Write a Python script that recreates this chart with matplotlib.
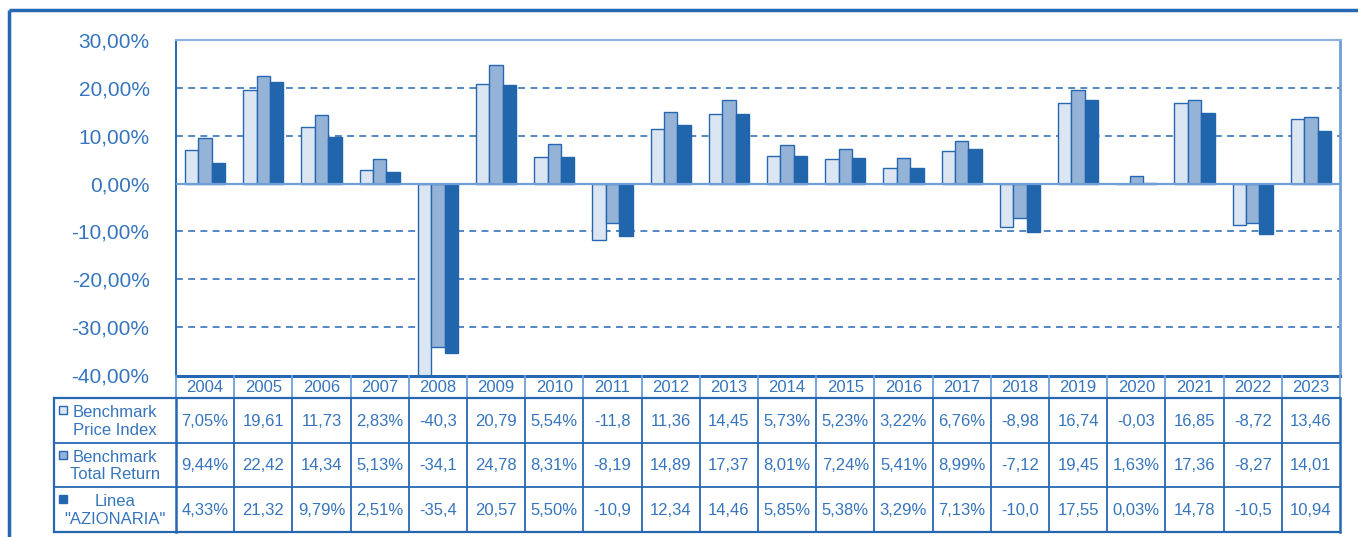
import matplotlib
matplotlib.use('Agg')
import matplotlib.pyplot as plt
from matplotlib.patches import Rectangle

plt.rcParams['font.family'] = ['Liberation Sans', 'DejaVu Sans']

# Data
years = [str(y) for y in range(2004, 2024)]
price_index = [7.05, 19.61, 11.73, 2.83, -40.30, 20.79, 5.54, -11.85, 11.36, 14.45,
               5.73, 5.23, 3.22, 6.76, -8.98, 16.74, -0.03, 16.85, -8.72, 13.46]
total_return = [9.44, 22.42, 14.34, 5.13, -34.10, 24.78, 8.31, -8.19, 14.89, 17.37,
                8.01, 7.24, 5.41, 8.99, -7.12, 19.45, 1.63, 17.36, -8.27, 14.01]
azionaria = [4.33, 21.32, 9.79, 2.51, -35.45, 20.57, 5.50, -10.95, 12.34, 14.46,
             5.85, 5.38, 3.29, 7.13, -10.05, 17.55, 0.03, 14.78, -10.55, 10.94]
series_names = ["Benchmark\nPrice Index", "Benchmark\nTotal Return", "Linea\n\"AZIONARIA\""]
y_ticks = [-40, -30, -20, -10, 0, 10, 20, 30]

# Styles
dark = '#2667b3'
mid = '#6f9fd6'
fills = ['#dce6f2', '#95b3d7', '#2166ad']
edges = [dark, dark, '#2166ad']
text_c = '#3675be'

W, H = 1358, 537
fig = plt.figure(figsize=(W / 100, H / 100), dpi=100)

# plot area in pixels
L, R, T, B = 176, 1340, 40, 375
ax = fig.add_axes([L / W, 1 - B / H, (R - L) / W, (B - T) / H])

x = list(range(len(years)))
bw = 0.23
for k, vals in enumerate([price_index, total_return, azionaria]):
    ax.bar([i + (k - 1) * bw for i in x], vals, width=bw, color=fills[k],
           edgecolor=edges[k], linewidth=1.0, zorder=3)

ax.set_xlim(-0.5, len(years) - 0.5)
ax.set_ylim(-40, 30)
ax.set_xticks([])
ax.set_yticks(y_ticks)
ax.set_yticklabels([f"{t:.2f}".replace('.', ',') + '%' for t in y_ticks],
                   fontsize=15, color=text_c)
ax.tick_params(axis='y', length=0, pad=19)

for t in y_ticks[1:-1]:
    if t == 0:
        ax.axhline(0, color=mid, lw=1.6, zorder=4)
    else:
        ax.axhline(t, color=dark, lw=1.1, linestyle=(0, (4.5, 3.5)), zorder=1)

ax.spines['left'].set_color(dark)
ax.spines['left'].set_linewidth(1.4)
ax.spines['right'].set_color(mid)
ax.spines['right'].set_linewidth(2.0)
ax.spines['top'].set_color('#8db2df')
ax.spines['top'].set_linewidth(1.6)
ax.spines['bottom'].set_visible(False)

# overlay for frame and table, pixel coordinates
ov = fig.add_axes([0, 0, 1, 1])
ov.set_xlim(0, W)
ov.set_ylim(H, 0)
ov.axis('off')

# outer frame
ov.plot([9, 9], [10, H], color=dark, lw=2.5, solid_capstyle='butt')
ov.plot([9, W], [10, 10], color=dark, lw=2.5, solid_capstyle='butt')

cw = (R - L) / len(years)
y_head_top, y_head_bot = 376, 398
row_edges = [398, 443, 487, 532]
lab_left = 54

# header row (years)
ov.plot([L, R], [y_head_top, y_head_top], color=dark, lw=2.2)
for i in range(len(years) + 1):
    xx = L + i * cw
    ov.plot([xx, xx], [y_head_top, y_head_bot], color=mid, lw=1.3)
for i, yr in enumerate(years):
    ov.text(L + (i + 0.5) * cw, (y_head_top + y_head_bot) / 2 + 1, yr,
            ha='center', va='center', fontsize=12, color=text_c)

# body grid
for j, yy in enumerate(row_edges):
    ov.plot([lab_left, R], [yy, yy], color=dark, lw=1.6 if j in (0, 3) else 1.3)
ov.plot([lab_left, lab_left], [row_edges[0], row_edges[-1]], color=dark, lw=1.6)
for i in range(len(years) + 1):
    xx = L + i * cw
    ov.plot([xx, xx], [row_edges[0], row_edges[-1]], color=dark,
            lw=1.8 if i in (0, len(years)) else 1.3)

# body text
for r, vals in enumerate([price_index, total_return, azionaria]):
    yc = (row_edges[r] + row_edges[r + 1]) / 2 + 1
    for i, v in enumerate(vals):
        lab = (f"{v:.2f}".replace('.', ',') + '%')[:5]
        ov.text(L + (i + 0.5) * cw, yc, lab, ha='center', va='center',
                fontsize=12, color=text_c)
    ov.text(115, yc, series_names[r], ha='center', va='center', fontsize=12,
            color=text_c, multialignment='center', linespacing=1.2)
    ov.add_patch(Rectangle((59, row_edges[r] + 8), 8, 8, facecolor=fills[r],
                           edgecolor=dark, lw=1.0))

fig.savefig('out.png', dpi=100)
